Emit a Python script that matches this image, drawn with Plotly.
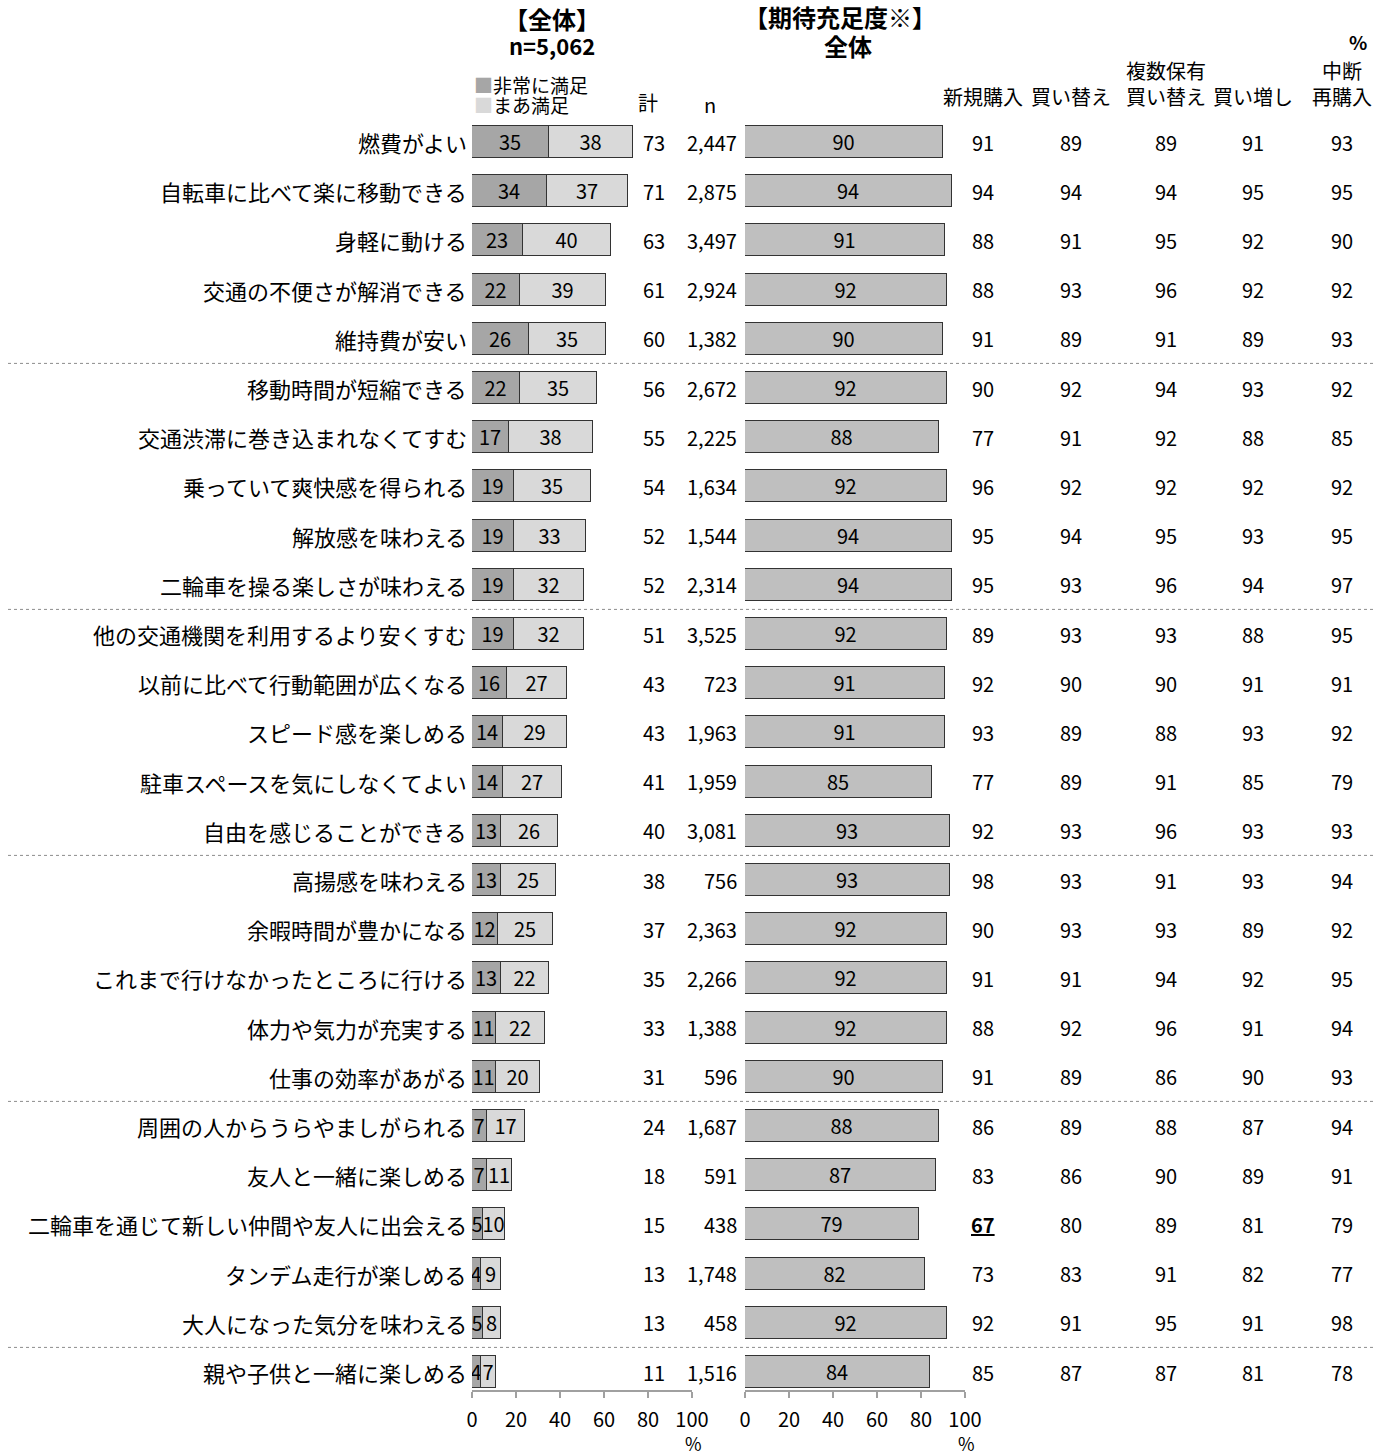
import plotly.graph_objects as go

# 項目（上から順）
items = [
    "燃費がよい", "自転車に比べて楽に移動できる", "身軽に動ける", "交通の不便さが解消できる",
    "維持費が安い", "移動時間が短縮できる", "交通渋滞に巻き込まれなくてすむ",
    "乗っていて爽快感を得られる", "解放感を味わえる", "二輪車を操る楽しさが味わえる",
    "他の交通機関を利用するより安くすむ", "以前に比べて行動範囲が広くなる", "スピード感を楽しめる",
    "駐車スペースを気にしなくてよい", "自由を感じることができる", "高揚感を味わえる",
    "余暇時間が豊かになる", "これまで行けなかったところに行ける", "体力や気力が充実する",
    "仕事の効率があがる", "周囲の人からうらやましがられる", "友人と一緒に楽しめる",
    "二輪車を通じて新しい仲間や友人に出会える", "タンデム走行が楽しめる",
    "大人になった気分を味わえる", "親や子供と一緒に楽しめる",
]
very = [35, 34, 23, 22, 26, 22, 17, 19, 19, 19, 19, 16, 14, 14, 13, 13, 12, 13, 11, 11, 7, 7, 5, 4, 5, 4]
fairly = [38, 37, 40, 39, 35, 35, 38, 35, 33, 32, 32, 27, 29, 27, 26, 25, 25, 22, 22, 20, 17, 11, 10, 9, 8, 7]
total = [73, 71, 63, 61, 60, 56, 55, 54, 52, 52, 51, 43, 43, 41, 40, 38, 37, 35, 33, 31, 24, 18, 15, 13, 13, 11]
n_resp = ["2,447", "2,875", "3,497", "2,924", "1,382", "2,672", "2,225", "1,634", "1,544", "2,314",
          "3,525", "723", "1,963", "1,959", "3,081", "756", "2,363", "2,266", "1,388", "596",
          "1,687", "591", "438", "1,748", "458", "1,516"]
expect = [90, 94, 91, 92, 90, 92, 88, 92, 94, 94, 92, 91, 91, 85, 93, 93, 92, 92, 92, 90, 88, 87, 79, 82, 92, 84]

seg_names = ["新規購入", "買い替え", "複数保有<br>買い替え", "買い増し", "中断<br>再購入"]
seg_new = [91, 94, 88, 88, 91, 90, 77, 96, 95, 95, 89, 92, 93, 77, 92, 98, 90, 91, 88, 91, 86, 83, 67, 73, 92, 85]
seg_replace = [89, 94, 91, 93, 89, 92, 91, 92, 94, 93, 93, 90, 89, 89, 93, 93, 93, 91, 92, 89, 89, 86, 80, 83, 91, 87]
seg_multi = [89, 94, 95, 96, 91, 94, 92, 92, 95, 96, 93, 90, 88, 91, 96, 91, 93, 94, 96, 86, 88, 90, 89, 91, 95, 87]
seg_add = [91, 95, 92, 92, 89, 93, 88, 92, 93, 94, 88, 91, 93, 85, 93, 93, 89, 92, 91, 90, 87, 89, 81, 82, 91, 81]
seg_resume = [93, 95, 90, 92, 93, 92, 85, 92, 95, 97, 95, 91, 92, 79, 93, 94, 92, 95, 94, 93, 94, 91, 79, 77, 98, 78]
highlight = {(0, 22)}  # 新規購入 × 出会える (太字下線)

W, H = 1373, 1452
PLOT_H = 1390
ROW0, ROW_STEP = 142, 49.2
FONT = "Noto Sans CJK JP"
DARK, LIGHT, MID = "#a6a6a6", "#d9d9d9", "#bfbfbf"


def px(x):
    return x / W


def py(y):
    return 1 - y / PLOT_H


rows = list(range(len(items)))

fig = go.Figure()
bar_common = dict(orientation="h", width=0.65, textposition="inside", insidetextanchor="middle",
                  constraintext="none", textangle=0, textfont=dict(size=20, color="black"),
                  hoverinfo="skip")
fig.add_trace(go.Bar(y=rows, x=very, text=very, name="非常に満足",
                     marker=dict(color=DARK, line=dict(color="#333333", width=1)),
                     xaxis="x", yaxis="y", **bar_common))
fig.add_trace(go.Bar(y=rows, x=fairly, text=fairly, name="まあ満足",
                     marker=dict(color=LIGHT, line=dict(color="#333333", width=1)),
                     xaxis="x", yaxis="y", **bar_common))
fig.add_trace(go.Bar(y=rows, x=expect, text=expect, name="期待充足度",
                     marker=dict(color=MID, line=dict(color="#333333", width=1)),
                     xaxis="x2", yaxis="y", **bar_common))

ann = []
# 項目ラベル・計・n
for i, lab in enumerate(items):
    ann.append(dict(x=px(469), y=i, xref="paper", yref="y", text=lab, showarrow=False,
                    xanchor="right", yanchor="middle", font=dict(size=22)))
    ann.append(dict(x=px(667), y=i, xref="paper", yref="y", text=str(total[i]), showarrow=False,
                    xanchor="right", yanchor="middle", font=dict(size=20)))
    ann.append(dict(x=px(739), y=i, xref="paper", yref="y", text=n_resp[i], showarrow=False,
                    xanchor="right", yanchor="middle", font=dict(size=20)))

seg_cols = [seg_new, seg_replace, seg_multi, seg_add, seg_resume]
seg_x = [983, 1071, 1166, 1253, 1342]
for c, (vals, xc) in enumerate(zip(seg_cols, seg_x)):
    for i, v in enumerate(vals):
        t = f"<b><u>{v}</u></b>" if (c, i) in highlight else str(v)
        ann.append(dict(x=px(xc), y=i, xref="paper", yref="y", text=t, showarrow=False,
                        xanchor="center", yanchor="middle", font=dict(size=20)))
    ann.append(dict(x=px(xc), y=py(113), xref="paper", yref="paper", text=seg_names[c],
                    showarrow=False, xanchor="center", yanchor="bottom", font=dict(size=20)))

# 見出し
ann += [
    dict(x=px(552), y=py(18), text="<b>【全体】</b>", font=dict(size=24)),
    dict(x=px(552), y=py(45), text="<b>n=5,062</b>", font=dict(size=22)),
    dict(x=px(840), y=py(17), text="<b>【期待充足度※】</b>", font=dict(size=24)),
    dict(x=px(848), y=py(46), text="<b>全体</b>", font=dict(size=24)),
    dict(x=px(1358), y=py(42), text="<b>%</b>", font=dict(size=19)),
    dict(x=px(648), y=py(103), text="計", font=dict(size=20)),
    dict(x=px(710), y=py(105), text="n", font=dict(size=20)),
    dict(x=px(693), y=py(1443), text="%", font=dict(size=18)),
    dict(x=px(966), y=py(1443), text="%", font=dict(size=18)),
]
for k in range(-9, 0):
    ann[k].update(xref="paper", yref="paper", showarrow=False, xanchor="center", yanchor="middle")
# 凡例
for yy, name, col in [(84, "非常に満足", DARK), (104, "まあ満足", LIGHT)]:
    ann.append(dict(x=px(472), y=py(yy), xref="paper", yref="paper", showarrow=False,
                    xanchor="left", yanchor="middle", font=dict(size=19),
                    text=f'<span style="color:{col}">■</span>{name}'))

# グループ区切りの点線
shapes = []
for k in range(5, len(items), 5):
    shapes.append(dict(type="line", xref="paper", yref="y", x0=px(8), x1=1, y0=k - 0.5, y1=k - 0.5,
                       line=dict(color="#8c8c8c", width=1, dash="dot")))

axis_common = dict(range=[0, 100], tickvals=[0, 20, 40, 60, 80, 100], showgrid=False, zeroline=False,
                   showline=True, linecolor="#a0a0a0", linewidth=2, ticks="outside", ticklen=6,
                   tickcolor="#a0a0a0", tickwidth=2, tickfont=dict(size=20, color="black"),
                   ticklabelstandoff=5, automargin=False, fixedrange=True)

fig.update_layout(
    width=W, height=H, margin=dict(l=0, r=0, t=0, b=H - PLOT_H, autoexpand=False),
    autosize=False, barmode="stack", showlegend=False, bargap=0,
    plot_bgcolor="white", paper_bgcolor="white",
    font=dict(family=FONT, color="black"),
    xaxis=dict(domain=[px(472), px(692)], anchor="y", **axis_common),
    xaxis2=dict(domain=[px(745), px(965)], anchor="y", **axis_common),
    yaxis=dict(range=[(PLOT_H - ROW0) / ROW_STEP, -ROW0 / ROW_STEP], visible=False, fixedrange=True),
    annotations=ann, shapes=shapes,
)

fig.write_html("out.html", config={"displayModeBar": False, "responsive": False},
               post_script="document.body.style.margin='0';")
